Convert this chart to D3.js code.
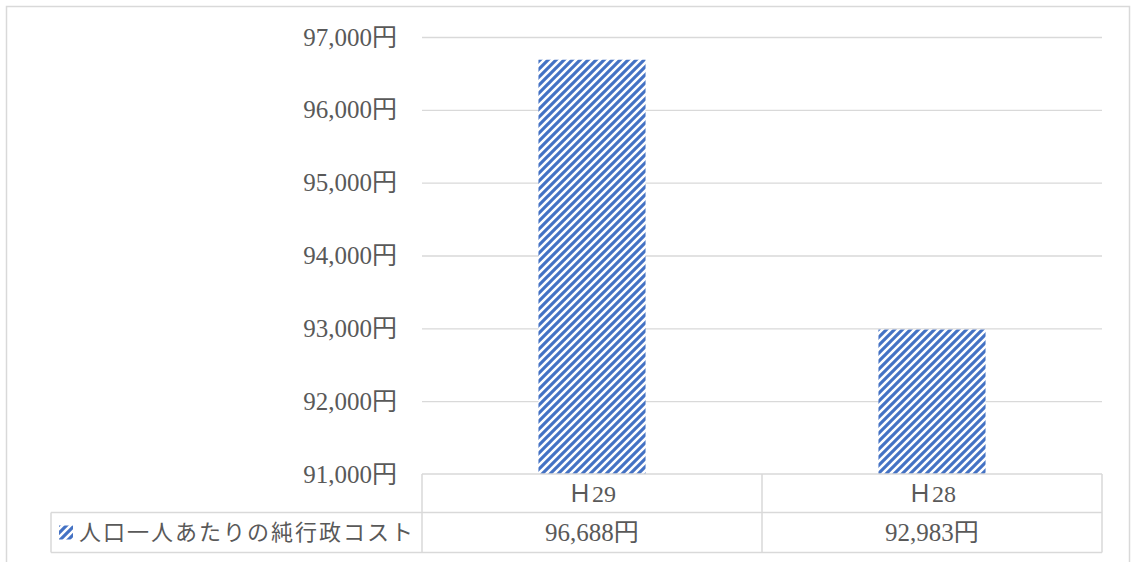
<!DOCTYPE html>
<html>
<head>
<meta charset="utf-8">
<script src="https://cdn.jsdelivr.net/npm/d3@7"></script>
<style>
  html, body { margin: 0; padding: 0; background: #fff; }
  svg { display: block; }
</style>
</head>
<body>
<svg id="chart" width="1132" height="562"></svg>
<script>
// 人口一人あたりの純行政コスト
const categories = ["Ｈ29", "Ｈ28"];
const seriesName = "人口一人あたりの純行政コスト";
const values = [96688, 92983];
const yTicks = [91000, 92000, 93000, 94000, 95000, 96000, 97000];

const plot = { left: 422, right: 1102, top: 37, bottom: 474 };
const rowH = [38.5, 40];
const legendLeft = 51;

const textColor = "#595959";
const lineColor = "#d9d9d9";
const barColor = "#4472c4";
const serifFont = "Liberation Serif, Times New Roman, Noto Sans CJK JP, serif";
const sansFont = "Noto Sans CJK JP, Noto Sans, sans-serif";

const fmt = d3.format(",");

const svg = d3.select("#chart");

// diagonal stripe fill
const defs = svg.append("defs");
const pat = defs.append("pattern")
  .attr("id", "stripes")
  .attr("patternUnits", "userSpaceOnUse")
  .attr("width", 8).attr("height", 8);
pat.append("rect").attr("width", 8).attr("height", 8).attr("fill", "#fff");
pat.append("path")
  .attr("d", "M-2,2 L2,-2 M0,8 L8,0 M6,10 L10,6")
  .attr("stroke", barColor)
  .attr("stroke-width", 3.1);

// outer frame
svg.append("rect")
  .attr("x", 6.5).attr("y", 6.5)
  .attr("width", 1123).attr("height", 600)
  .attr("fill", "none")
  .attr("stroke", lineColor)
  .attr("stroke-width", 1.5);

const x = d3.scaleBand()
  .domain(categories)
  .range([plot.left, plot.right])
  .padding(0);

const y = d3.scaleLinear()
  .domain([91000, 97000])
  .range([plot.bottom, plot.top]);

// value axis with gridlines
const yAxis = d3.axisLeft(y)
  .tickValues(yTicks)
  .tickSize(-(plot.right - plot.left))
  .tickPadding(25)
  .tickFormat(d => fmt(d) + "円");

const gy = svg.append("g")
  .attr("transform", `translate(${plot.left},0)`)
  .call(yAxis)
  .attr("font-family", serifFont)
  .attr("font-size", 25);
gy.select(".domain").remove();
gy.selectAll(".tick line")
  .attr("stroke", lineColor)
  .attr("stroke-width", 1.3)
  .filter(d => d === 91000).remove();
gy.selectAll(".tick text")
  .attr("fill", textColor)
  .attr("dy", "0.32em");

// bars
const barW = x.bandwidth() * 0.315;
svg.append("g").selectAll("rect")
  .data(values)
  .join("rect")
  .attr("x", (d, i) => x(categories[i]) + (x.bandwidth() - barW) / 2)
  .attr("y", d => y(d))
  .attr("width", barW)
  .attr("height", d => y(91000) - y(d))
  .attr("fill", "url(#stripes)");

// data table grid
const t = svg.append("g")
  .attr("stroke", lineColor)
  .attr("stroke-width", 1.5)
  .attr("fill", "none");
const row1 = plot.bottom, row2 = row1 + rowH[0], row3 = row2 + rowH[1];
t.append("line").attr("x1", plot.left).attr("x2", plot.right).attr("y1", row1).attr("y2", row1);
t.append("line").attr("x1", legendLeft).attr("x2", plot.right).attr("y1", row2).attr("y2", row2);
t.append("line").attr("x1", legendLeft).attr("x2", plot.right).attr("y1", row3).attr("y2", row3);
t.append("line").attr("x1", legendLeft).attr("x2", legendLeft).attr("y1", row2).attr("y2", row3);
[plot.left, x(categories[1]), plot.right].forEach(xx => {
  t.append("line").attr("x1", xx).attr("x2", xx).attr("y1", row1).attr("y2", row3);
});

// category labels
svg.append("g").selectAll("text")
  .data(categories)
  .join("text")
  .attr("x", d => x(d) + x.bandwidth() / 2)
  .attr("y", (row1 + row2) / 2)
  .attr("dy", "0.35em")
  .attr("text-anchor", "middle")
  .attr("fill", textColor)
  .style("font-family", serifFont)
  .style("font-size", "24px")
  .text(d => d);

// value cells
svg.append("g").selectAll("text")
  .data(values)
  .join("text")
  .attr("x", (d, i) => x(categories[i]) + x.bandwidth() / 2)
  .attr("y", (row2 + row3) / 2)
  .attr("dy", "0.35em")
  .attr("text-anchor", "middle")
  .attr("fill", textColor)
  .style("font-family", serifFont)
  .style("font-size", "25px")
  .text(d => fmt(d) + "円");

// legend key + series name
svg.append("rect")
  .attr("x", 59).attr("y", (row2 + row3) / 2 - 7)
  .attr("width", 14).attr("height", 14)
  .attr("fill", "url(#stripes)");
svg.append("text")
  .attr("x", 79)
  .attr("y", (row2 + row3) / 2)
  .attr("dy", "0.36em")
  .attr("fill", textColor)
  .style("font-family", sansFont)
  .style("font-size", "22px")
  .attr("letter-spacing", 2)
  .text(seriesName);
</script>
</body>
</html>
